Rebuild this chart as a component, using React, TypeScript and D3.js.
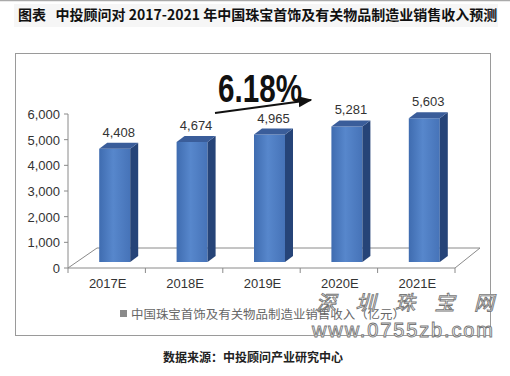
import React from "react";
import * as d3 from "d3";

const categories = ["2017E", "2018E", "2019E", "2020E", "2021E"];
const values = [4408, 4674, 4965, 5281, 5603];
const yTicks = [0, 1000, 2000, 3000, 4000, 5000, 6000];
const titleText = "图表   中投顾问对 2017-2021 年中国珠宝首饰及有关物品制造业销售收入预测";
const legendText = "中国珠宝首饰及有关物品制造业销售收入（亿元）";
const sourceText = "数据来源：中投顾问产业研究中心";
const growthText = "6.18%";

export default function App() {
  const W = 510, H = 376;
  const x0 = 68, x1 = 455, yBase = 268, yTop = 114;
  const floorDx = 29, floorDy = -20;
  const barDx = 8, barDy = -6;
  const sideDx = 8, sideDy = -6;
  const barW = 31;

  const x = d3.scaleBand<string>().domain(categories).range([x0, x1]).paddingInner(0).paddingOuter(0);
  const y = d3.scaleLinear().domain([0, 6000]).range([yBase, yTop]);
  const fmt = d3.format(",");
  const sans = "'Liberation Sans', Arial, sans-serif";
  const cjk = "'Noto Sans CJK SC', sans-serif";
  const bw = x.bandwidth();

  return (
    <svg width={W} height={H} style={{ position: "absolute", left: 0, top: 0, background: "#fff" }}>
      <defs>
        <linearGradient id="front" x1="0" x2="1" y1="0" y2="0">
          <stop offset="0" stopColor="#3f6cb0" />
          <stop offset="0.45" stopColor="#5787cc" />
          <stop offset="1" stopColor="#4673b8" />
        </linearGradient>
        <marker id="arr" viewBox="0 0 10 10" refX="9" refY="5" markerWidth="7" markerHeight="7" orient="auto">
          <path d="M0,1 L10,5 L0,9 z" fill="#111" />
        </marker>
      </defs>
      <rect x={0} y={0} width={W} height={H} fill="#fff" />
      <line x1={0} x2={W} y1={0.5} y2={0.5} stroke="#aaa" strokeWidth={1.5} />
      <rect x={14} y={4} width={484} height={23} fill="#f6f6f6" />
      <text x={18} y={20} fontFamily={cjk} fontWeight="bold" fontSize={14} fill="#111" style={{ whiteSpace: "pre" }}>
        {titleText}
      </text>

      <rect x={15.5} y={53.5} width={475} height={282} fill="none" stroke="#9a9a9a" strokeWidth={1} />

      <line x1={x0 + floorDx} x2={x1 + floorDx - 4} y1={yBase + floorDy} y2={yBase + floorDy} stroke="#8a8a8a" />
      <line x1={x0} x2={x0 + floorDx} y1={yBase} y2={yBase + floorDy} stroke="#8a8a8a" />
      <line x1={x1} x2={x1 + floorDx - 4} y1={yBase} y2={yBase + floorDy} stroke="#8a8a8a" />

      {categories.map((c, i) => {
        const fx = (x(c) as number) + bw / 2 - barW / 2 + barDx;
        const fb = yBase + barDy;
        const ft = y(values[i]) + barDy;
        const front = `M${fx},${ft} L${fx + barW},${ft} L${fx + barW},${fb} L${fx},${fb} Z`;
        const side = `M${fx + barW},${ft} L${fx + barW + sideDx},${ft + sideDy} L${fx + barW + sideDx},${fb + sideDy} L${fx + barW},${fb} Z`;
        const top = `M${fx},${ft} L${fx + sideDx},${ft + sideDy} L${fx + barW + sideDx},${ft + sideDy} L${fx + barW},${ft} Z`;
        return (
          <g key={c}>
            <path d={front} fill="url(#front)" />
            <path d={side} fill="#264478" />
            <path d={top} fill="#3a5d9a" />
            <text x={fx + (barW + sideDx) / 2} y={ft + sideDy - 6} textAnchor="middle" fontFamily={sans} fontSize={13} fill="#333">
              {fmt(values[i])}
            </text>
          </g>
        );
      })}

      <line x1={x0} x2={x0} y1={yTop} y2={yBase} stroke="#8a8a8a" />
      {yTicks.map((t) => (
        <g key={t}>
          <line x1={x0 - 4} x2={x0} y1={y(t)} y2={y(t)} stroke="#8a8a8a" />
          <text x={x0 - 8} y={y(t) + 5} textAnchor="end" fontFamily={sans} fontSize={13} fill="#333">
            {fmt(t)}
          </text>
        </g>
      ))}

      <line x1={x0} x2={x1} y1={yBase} y2={yBase} stroke="#8a8a8a" />
      {[...categories.map((c) => x(c) as number), x1].map((t, i) => (
        <line key={i} x1={t} x2={t} y1={yBase} y2={yBase + 5} stroke="#8a8a8a" />
      ))}
      {categories.map((c) => (
        <text key={c} x={(x(c) as number) + bw / 2 + 1} y={288} textAnchor="middle" fontFamily={sans} fontSize={13} fill="#333">
          {c}
        </text>
      ))}

      <text x={218} y={102} fontFamily={sans} fontWeight="bold" fontSize={39} fill="#111" textLength={84} lengthAdjust="spacingAndGlyphs">
        {growthText}
      </text>
      <line x1={215} y1={113} x2={311} y2={100} stroke="#111" strokeWidth={2} markerEnd="url(#arr)" />

      <rect x={120} y={310} width={7} height={7} fill="#8a8a8a" />
      <text x={131} y={319} fontFamily={cjk} fontSize={12} fill="#666" textLength={274} lengthAdjust="spacingAndGlyphs">
        {legendText}
      </text>

      <text x={316} y={310} fontFamily="'Noto Sans CJK SC', serif" fontStyle="italic" fontSize={20} fill="#fff" stroke="#777" strokeWidth={0.9} textLength={178} style={{ whiteSpace: "pre" }}>
        深 圳 珠 宝 网
      </text>
      <text x={312} y={337} fontFamily={sans} fontSize={20} fill="#fff" stroke="#777" strokeWidth={0.9} textLength={181}>
        www.0755zb.com
      </text>

      <text x={253} y={362} textAnchor="middle" fontFamily={cjk} fontWeight="bold" fontSize={12} fill="#222">
        {sourceText}
      </text>
    </svg>
  );
}
